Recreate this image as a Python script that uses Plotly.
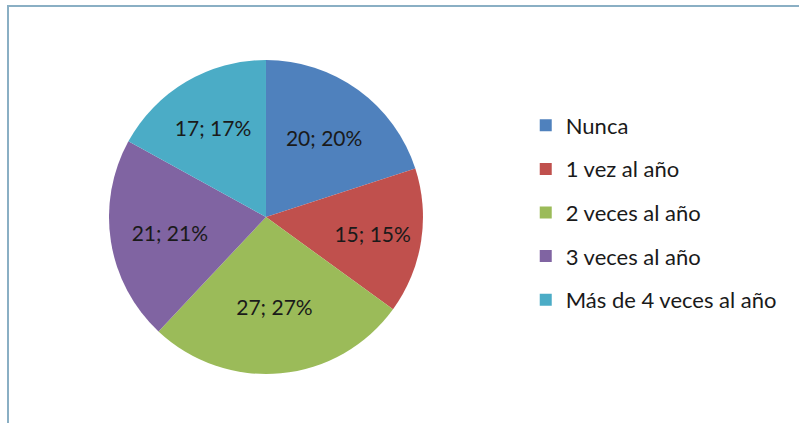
"""Pie chart: frecuencia al año (recreated with Plotly)."""

import plotly.graph_objects as go

labels = ["Nunca", "1 vez al año", "2 veces al año", "3 veces al año", "Más de 4 veces al año"]
values = [20, 15, 27, 21, 17]
colors = ["#4F81BD", "#C0504D", "#9BBB59", "#8064A2", "#4BACC6"]

FONT = "Lato"

fig = go.Figure()

fig.add_trace(
    go.Pie(
        labels=labels,
        values=values,
        sort=False,
        direction="clockwise",
        rotation=0,
        marker=dict(colors=colors, line=dict(width=0)),
        texttemplate="%{value}; %{percent:.0%}",
        textposition="inside",
        insidetextorientation="horizontal",
        textfont=dict(family=FONT, size=21, color="#1a1a1a"),
        showlegend=False,
        hoverinfo="label+value+percent",
        domain=dict(x=[0.1364, 0.5294], y=[0.1158, 0.8582]),
    )
)

# legend entries, one group each so the gap between them can be set
for name, col in zip(labels, colors):
    fig.add_trace(
        go.Scatter(
            x=[None],
            y=[None],
            mode="markers",
            name=name,
            legendgroup=name,
            marker=dict(symbol="square", size=12, color=col),
        )
    )

fig.update_layout(
    width=799,
    height=423,
    paper_bgcolor="white",
    plot_bgcolor="white",
    margin=dict(l=0, r=0, t=0, b=0),
    xaxis=dict(visible=False),
    yaxis=dict(visible=False),
    legend=dict(
        x=0.658,
        y=0.753,
        xanchor="left",
        yanchor="top",
        tracegroupgap=12,
        itemwidth=30,
        font=dict(family=FONT, size=22, color="#1a1a1a"),
        bgcolor="rgba(0,0,0,0)",
    ),
    shapes=[
        dict(
            type="rect",
            xref="paper",
            yref="paper",
            x0=8 / 799,
            x1=1.05,
            y0=-0.05,
            y1=1 - 6 / 423,
            line=dict(color="#8AAFC4", width=2),
            fillcolor="rgba(0,0,0,0)",
            layer="below",
        )
    ],
)

fig.write_html(
    "out.html",
    config={"displayModeBar": False},
    post_script="document.body.style.margin='0';",
)
